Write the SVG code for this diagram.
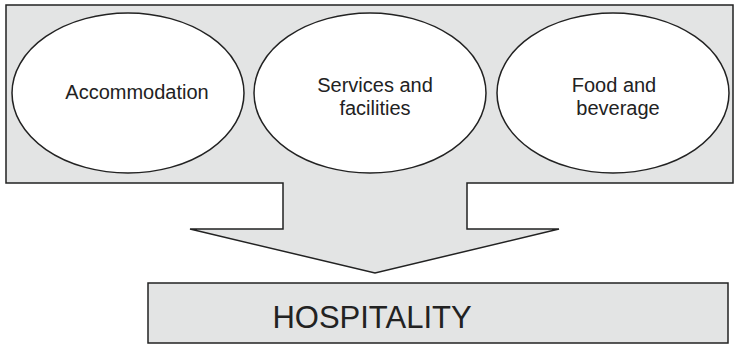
<svg xmlns="http://www.w3.org/2000/svg" width="735" height="345" viewBox="0 0 735 345">
<style>
.shape{fill:#e3e4e4;stroke:#222;stroke-width:1.5}
.ell{fill:#fff;stroke:#222;stroke-width:1.5}
.t{font-family:"Liberation Sans",Arial,sans-serif;font-size:20px;fill:#222;text-anchor:middle}
.big{font-size:31px}
</style>
<rect width="735" height="345" fill="#fff"/>
<g id="connectors">
<path class="shape" d="M6,5 H733 V183 H467 V229 H559 L375,273 L190,229 H283 V183 H6 Z"/>
</g>
<g id="accommodation">
<ellipse class="ell" cx="128" cy="93" rx="116" ry="80"/>
<text class="t" x="137" y="99">Accommodation</text>
</g>
<g id="services">
<ellipse class="ell" cx="370" cy="93" rx="116" ry="80"/>
<text class="t" x="375" y="92">Services and</text>
<text class="t" x="375" y="115">facilities</text>
</g>
<g id="food">
<ellipse class="ell" cx="613" cy="93" rx="116" ry="80"/>
<text class="t" x="614" y="92">Food and</text>
<text class="t" x="618" y="115">beverage</text>
</g>
<g id="hospitality">
<rect class="shape" x="148" y="283" width="580" height="60"/>
<text class="t big" x="372" y="328">HOSPITALITY</text>
</g>
</svg>
